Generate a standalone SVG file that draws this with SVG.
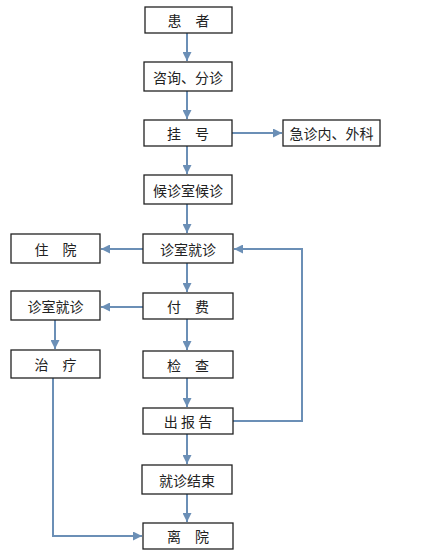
<svg xmlns="http://www.w3.org/2000/svg" width="447" height="553" viewBox="0 0 447 553">
<defs>
<marker id="ah" viewBox="0 0 10 10" refX="10" refY="5" markerWidth="4.5" markerHeight="4.5" orient="auto" markerUnits="strokeWidth">
<path d="M0,0 L10,5 L0,10 Z" fill="#6b8fb6"/>
</marker>
<style>
.box{fill:#fff;stroke:#222;stroke-width:1.3}
.t{font-family:"Noto Sans CJK SC","Liberation Sans",sans-serif;font-size:14px;fill:#222;text-anchor:middle;dominant-baseline:central}
.c{fill:none;stroke:#6b8fb6;stroke-width:2}
</style>
</defs>
<rect width="447" height="553" fill="#fff"/>
<g id="connectors">
<line class="c" x1="187" y1="33" x2="187" y2="61" marker-end="url(#ah)"/>
<line class="c" x1="187" y1="91" x2="187" y2="119" marker-end="url(#ah)"/>
<line class="c" x1="232" y1="133" x2="282" y2="133" marker-end="url(#ah)"/>
<line class="c" x1="187" y1="146" x2="187" y2="174" marker-end="url(#ah)"/>
<line class="c" x1="187" y1="204" x2="187" y2="233" marker-end="url(#ah)"/>
<line class="c" x1="143" y1="249" x2="101" y2="249" marker-end="url(#ah)"/>
<line class="c" x1="187" y1="263" x2="187" y2="292" marker-end="url(#ah)"/>
<line class="c" x1="143" y1="307" x2="101" y2="307" marker-end="url(#ah)"/>
<line class="c" x1="55" y1="320" x2="55" y2="349" marker-end="url(#ah)"/>
<line class="c" x1="187" y1="319" x2="187" y2="350" marker-end="url(#ah)"/>
<line class="c" x1="187" y1="378" x2="187" y2="407" marker-end="url(#ah)"/>
<polyline class="c" points="233,421 302,421 302,249 234,249" marker-end="url(#ah)"/>
<line class="c" x1="187" y1="434" x2="187" y2="464" marker-end="url(#ah)"/>
<line class="c" x1="187" y1="494" x2="187" y2="522" marker-end="url(#ah)"/>
<polyline class="c" points="53,378 53,536 142,536" marker-end="url(#ah)"/>
</g>
<g id="n1"><rect class="box" x="145" y="7" width="87" height="26"/><text class="t" x="188.5" y="20">患　者</text></g>
<g id="n2"><rect class="box" x="144" y="62" width="88" height="29"/><text class="t" x="188" y="76.5">咨询、分诊</text></g>
<g id="n3"><rect class="box" x="144" y="120" width="88" height="26"/><text class="t" x="188" y="133">挂　号</text></g>
<g id="n4"><rect class="box" x="283" y="120" width="97" height="26"/><text class="t" x="331.5" y="133">急诊内、外科</text></g>
<g id="n5"><rect class="box" x="144" y="175" width="88" height="29"/><text class="t" x="188" y="189.5">候诊室候诊</text></g>
<g id="n6"><rect class="box" x="143" y="234" width="90" height="29"/><text class="t" x="188" y="248.5">诊室就诊</text></g>
<g id="n7"><rect class="box" x="11" y="234" width="89" height="29"/><text class="t" x="55.5" y="248.5">住　院</text></g>
<g id="n8"><rect class="box" x="143" y="293" width="90" height="26"/><text class="t" x="188" y="306">付　费</text></g>
<g id="n9"><rect class="box" x="11" y="291" width="89" height="29"/><text class="t" x="55.5" y="305.5">诊室就诊</text></g>
<g id="n10"><rect class="box" x="11" y="350" width="89" height="28"/><text class="t" x="55.5" y="364">治　疗</text></g>
<g id="n11"><rect class="box" x="143" y="351" width="90" height="27"/><text class="t" x="188" y="364.5">检　查</text></g>
<g id="n12"><rect class="box" x="143" y="408" width="90" height="26"/><text class="t" x="188" y="421">出 报 告</text></g>
<g id="n13"><rect class="box" x="142" y="465" width="90" height="29"/><text class="t" x="187" y="479.5">就诊结束</text></g>
<g id="n14"><rect class="box" x="143" y="523" width="90" height="26"/><text class="t" x="188" y="536">离　院</text></g>
</svg>
